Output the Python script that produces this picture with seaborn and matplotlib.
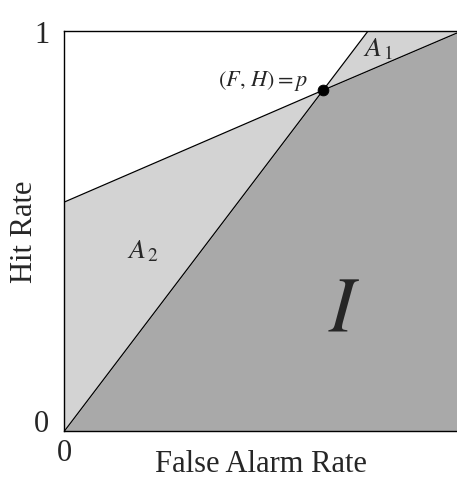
import numpy as np
import matplotlib
matplotlib.use('Agg')
import matplotlib.pyplot as plt
import seaborn as sns

# operating point p = (F, H)
p_far = 0.659
p_hit = 0.852

# line through origin and p (stops at H = 1)
line1_x = [0.0, p_far, p_far / p_hit]
line1_y = [0.0, p_hit, 1.0]

# line through p with intercept on the hit axis
line2_x = [0.0, p_far, 1.0]
line2_y = [0.5725, p_hit, 0.995]

sns.set_style('white')
plt.rcParams['font.family'] = ['Liberation Serif', 'DejaVu Serif']
plt.rcParams['mathtext.fontset'] = 'stix'

fig = plt.figure(figsize=(4.57, 4.81), dpi=100)
ax = fig.add_axes([0.1411, 0.1019, 0.8589, 0.8316])

dark = '#a9a9a9'
light = '#d3d3d3'

# region I
ax.fill_between(line2_x, 0, [line1_y[0], line1_y[1], line2_y[2]], color=dark, lw=0)
# region A2
ax.fill_between(line1_x[:2], line1_y[:2], line2_y[:2], color=light, lw=0)
# region A1
a1_x = [p_far, line1_x[2], 1.0]
ax.fill_between(a1_x, np.interp(a1_x, line2_x, line2_y), [p_hit, 1.0, 1.0], color=light, lw=0)

sns.lineplot(x=line1_x, y=line1_y, color='black', lw=0.9, ax=ax, sort=False)
sns.lineplot(x=line2_x, y=line2_y, color='black', lw=0.9, ax=ax, sort=False)
sns.scatterplot(x=[p_far], y=[p_hit], color='black', s=60, edgecolor='black', ax=ax, zorder=5)

ax.text(0.505, 0.877, r'$(F,\,H) = p$', fontsize=16, ha='center', va='center')
ax.text(0.80, 0.955, r'$A_{\,1}$', fontsize=20, ha='center', va='center')
ax.text(0.20, 0.452, r'$A_{\,2}$', fontsize=20, ha='center', va='center')
ax.text(0.714, 0.30, r'$I$', fontsize=56, ha='center', va='center')

ax.set_xlim(0, 1)
ax.set_ylim(0, 1)
ax.set_xticks([0])
ax.set_yticks([0, 1])
ax.tick_params(length=0, labelsize=22)
ax.tick_params(axis='y', pad=11)
ax.tick_params(axis='x', pad=5)
ax.get_yticklabels()[0].set_va('baseline')
ax.set_xlabel('False Alarm Rate', fontsize=22, va='center')
ax.set_ylabel('Hit Rate', fontsize=22, va='center')
ax.xaxis.set_label_coords(0.5, -0.0825)
ax.yaxis.set_label_coords(-0.102, 0.5)
for s in ax.spines.values():
    s.set_color('black')
    s.set_linewidth(1.0)
ax.spines['right'].set_visible(False)

fig.savefig('out.png', dpi=100)
